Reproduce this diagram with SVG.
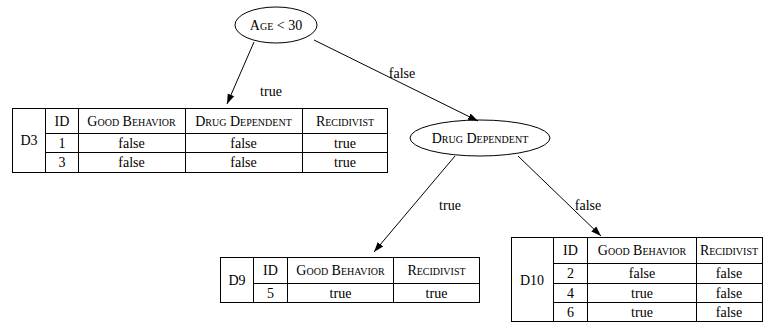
<svg xmlns="http://www.w3.org/2000/svg" width="765" height="323" viewBox="0 0 765 323">
<defs>
<marker id="ah" markerWidth="10" markerHeight="10" refX="10" refY="5" orient="auto" markerUnits="userSpaceOnUse" viewBox="0 0 10 10">
<path d="M0,1.5 L10,5 L0,8.5 Z" fill="#000"/>
</marker>
</defs>
<rect width="765" height="323" fill="#fff"/>
<g id="connectors" stroke="#000" stroke-width="1" fill="none">
<line x1="254" y1="42" x2="227" y2="104" marker-end="url(#ah)"/>
<line x1="314" y1="40" x2="478" y2="121" marker-end="url(#ah)"/>
<line x1="455" y1="156" x2="374" y2="252" marker-end="url(#ah)"/>
<line x1="518" y1="156" x2="601" y2="236" marker-end="url(#ah)"/>
</g>
<g id="labels" font-family="Liberation Serif" font-size="14" text-anchor="middle" fill="#000">
<text x="271" y="96" font-family="Liberation Serif">true</text>
<text x="402" y="78" font-family="Liberation Serif">false</text>
<text x="450" y="210" font-family="Liberation Serif">true</text>
<text x="588" y="210" font-family="Liberation Serif">false</text>
</g>
<g id="n_age">
<ellipse cx="276" cy="25" rx="41" ry="18" fill="none" stroke="#000"/>
<text x="276" y="30" font-family="Liberation Serif" font-size="14" font-variant="small-caps" text-anchor="middle">Age &lt; 30</text>
</g>
<g id="n_drug">
<ellipse cx="480" cy="138" rx="70" ry="18" fill="none" stroke="#000"/>
<text x="480" y="143" font-family="Liberation Serif" font-size="14" font-variant="small-caps" text-anchor="middle">Drug Dependent</text>
</g>
<g id="n_d3" font-family="Liberation Serif" font-size="14" text-anchor="middle">
<rect x="12.5" y="108.5" width="375" height="64" fill="none" stroke="#000"/>
<path fill="none" stroke="#000" d="M45.5,108.5V172.5M78.5,108.5V172.5M185.5,108.5V172.5M302.5,108.5V172.5M45.5,133.5H387.5M45.5,152.5H387.5"/>
<text x="29" y="145" font-family="Liberation Serif">D3</text>
<text x="62" y="126" font-family="Liberation Serif" font-variant="small-caps">ID</text>
<text x="131.5" y="126" font-family="Liberation Serif" font-variant="small-caps">Good Behavior</text>
<text x="243.5" y="126" font-family="Liberation Serif" font-variant="small-caps">Drug Dependent</text>
<text x="345" y="126" font-family="Liberation Serif" font-variant="small-caps">Recidivist</text>
<text x="62" y="148" font-family="Liberation Serif">1</text>
<text x="131.5" y="148" font-family="Liberation Serif">false</text>
<text x="243.5" y="148" font-family="Liberation Serif">false</text>
<text x="345" y="148" font-family="Liberation Serif">true</text>
<text x="62" y="167" font-family="Liberation Serif">3</text>
<text x="131.5" y="167" font-family="Liberation Serif">false</text>
<text x="243.5" y="167" font-family="Liberation Serif">false</text>
<text x="345" y="167" font-family="Liberation Serif">true</text>
</g>
<g id="n_d9" font-family="Liberation Serif" font-size="14" text-anchor="middle">
<rect x="220.5" y="257.5" width="259" height="45" fill="none" stroke="#000"/>
<path fill="none" stroke="#000" d="M253.5,257.5V302.5M287.5,257.5V302.5M393.5,257.5V302.5M253.5,283.5H479.5"/>
<text x="237" y="285" font-family="Liberation Serif">D9</text>
<text x="270.5" y="275" font-family="Liberation Serif" font-variant="small-caps">ID</text>
<text x="340.5" y="275" font-family="Liberation Serif" font-variant="small-caps">Good Behavior</text>
<text x="436.5" y="275" font-family="Liberation Serif" font-variant="small-caps">Recidivist</text>
<text x="270.5" y="298" font-family="Liberation Serif">5</text>
<text x="340.5" y="298" font-family="Liberation Serif">true</text>
<text x="436.5" y="298" font-family="Liberation Serif">true</text>
</g>
<g id="n_d10" font-family="Liberation Serif" font-size="14" text-anchor="middle">
<rect x="511.5" y="237.5" width="251" height="84" fill="none" stroke="#000"/>
<path fill="none" stroke="#000" d="M553.5,237.5V321.5M587.5,237.5V321.5M696.5,237.5V321.5M553.5,263.5H762.5M553.5,283.5H762.5M553.5,302.5H762.5"/>
<text x="532" y="285" font-family="Liberation Serif">D10</text>
<text x="570.5" y="255" font-family="Liberation Serif" font-variant="small-caps">ID</text>
<text x="642" y="255" font-family="Liberation Serif" font-variant="small-caps">Good Behavior</text>
<text x="729" y="255" font-family="Liberation Serif" font-variant="small-caps">Recidivist</text>
<text x="570.5" y="278" font-family="Liberation Serif">2</text>
<text x="642" y="278" font-family="Liberation Serif">false</text>
<text x="729" y="278" font-family="Liberation Serif">false</text>
<text x="570.5" y="298" font-family="Liberation Serif">4</text>
<text x="642" y="298" font-family="Liberation Serif">true</text>
<text x="729" y="298" font-family="Liberation Serif">false</text>
<text x="570.5" y="317" font-family="Liberation Serif">6</text>
<text x="642" y="317" font-family="Liberation Serif">true</text>
<text x="729" y="317" font-family="Liberation Serif">false</text>
</g>
</svg>
